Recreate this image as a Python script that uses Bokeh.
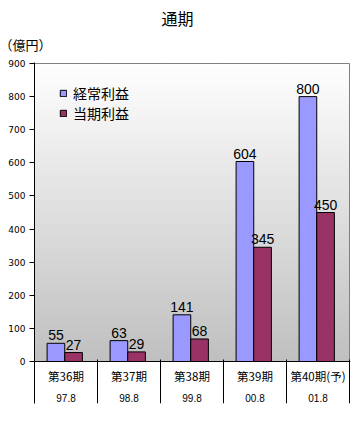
from bokeh.plotting import figure
from bokeh.models import Range1d, FixedTicker, Span, Title
from bokeh.core.properties import value
from bokeh.embed import file_html
from bokeh.resources import INLINE
import numpy as np

# ---- data ----
periods = ["第36期", "第37期", "第38期", "第39期", "第40期(予)"]
dates = ["97.8", "98.8", "99.8", "00.8", "01.8"]
ordinary_profit = [55, 63, 141, 604, 800]
net_profit = [27, 29, 68, 345, 450]
series_names = ["経常利益", "当期利益"]
y_ticks = [0, 100, 200, 300, 400, 500, 600, 700, 800, 900]
title_text = "通期"
unit_text = "（億円）"

# ---- layout ----
W, H = 354, 421
B_LEFT, B_RIGHT, B_TOP, B_BOTTOM = 34, 4, 62, 18
n = len(periods)
y_max = max(y_ticks)
axis_px = 298                      # pixels from 0 to y_max
upp = y_max / axis_px              # data units per pixel (y)
table_px = 42                      # table height below the axis
y_lo = -table_px * upp
y_hi = y_max + 1 * upp
cat_px = (W - B_LEFT - B_RIGHT - 1) / n
x_hi = n + 1 / cat_px

p = figure(width=W, height=H, x_range=Range1d(0, x_hi), y_range=Range1d(y_lo, y_hi),
           x_axis_location=None, toolbar_location=None, output_backend="svg",
           min_border_left=B_LEFT, min_border_right=B_RIGHT,
           min_border_top=B_TOP, min_border_bottom=B_BOTTOM,
           title=title_text)
p.outline_line_color = None
p.background_fill_color = "white"
p.border_fill_color = "white"
p.ygrid.visible = False

# titles (the one added later sits closer to the plot)
p.title.align = "left"
p.title.offset = 161 - B_LEFT
p.title.standoff = -12
p.title.text_font = "Noto Sans CJK JP"
p.title.text_font_size = "16px"
p.title.text_font_style = "normal"
p.title.text_color = "black"
p.add_layout(Title(text=unit_text, align="left", offset=-35, standoff=18,
                   text_font="Noto Sans CJK JP", text_font_size="13px",
                   text_font_style="normal", text_color="black"), "above")

# gradient background of the plot area
N = 300
t = np.linspace(0, 1, N)
v = (192 + (255 - 192) * t).astype(np.uint8)
img = np.empty((N, 1), dtype=np.uint32)
view = img.view(dtype=np.uint8).reshape((N, 1, 4))
view[:, 0, 0] = v
view[:, 0, 1] = v
view[:, 0, 2] = v
view[:, 0, 3] = 255
p.image_rgba(image=[img], x=0, y=0, dw=n, dh=y_max)

# plot-area border (top, right)
p.line(x=[0, n, n], y=[y_max, y_max, 0], line_color="#808080", line_width=1)

# bars
centers = [i + 0.5 for i in range(n)]
bw = 0.28
x_a = [c - 0.16 for c in centers]
x_b = [c + 0.12 for c in centers]
p.vbar(x=x_a, top=ordinary_profit, bottom=0, width=bw, fill_color="#9999FF",
       line_color="black", line_width=1, legend_label=series_names[0])
p.vbar(x=x_b, top=net_profit, bottom=0, width=bw, fill_color="#993366",
       line_color="black", line_width=1, legend_label=series_names[1])

# value labels
num_font = value("Liberation Sans")
p.text(x=x_a, y=ordinary_profit, text=[str(v) for v in ordinary_profit],
       text_align="center", text_baseline="alphabetic", y_offset=-8,
       text_font=num_font, text_font_size="14px", text_color="black")
p.text(x=x_b, y=net_profit, text=[str(v) for v in net_profit],
       text_align="center", text_baseline="alphabetic", y_offset=-8,
       text_font=num_font, text_font_size="14px", text_color="black")

# x axis line at 0 and table separators
p.add_layout(Span(location=0, dimension="width", line_color="black", line_width=1))
bounds = [i + 1 for i in range(n)]
p.segment(x0=bounds, y0=[2 * upp] * n, x1=bounds, y1=[y_lo] * n,
          line_color="black", line_width=1)

# table labels
cjk = value("Noto Sans CJK JP")
p.text(x=centers, y=[0] * n, text=periods, text_align="center", text_baseline="middle",
       y_offset=14, text_font=cjk, text_font_size="11.5px", text_color="black")
p.text(x=centers, y=[0] * n, text=dates, text_align="center", text_baseline="middle",
       y_offset=36, text_font=num_font, text_font_size="10px", text_color="black")

# y axis
ax = p.yaxis[0]
ax.ticker = FixedTicker(ticks=y_ticks)
ax.axis_line_color = "black"
ax.major_tick_line_color = "black"
ax.major_tick_out = 5
ax.major_tick_in = 0
ax.minor_tick_line_color = None
ax.major_label_standoff = 4
ax.major_label_text_font = "DejaVu Sans"
ax.major_label_text_font_size = "9px"
ax.major_label_text_color = "black"

# legend (location = bottom-left of the legend box, from frame bottom-left)
lg = p.legend[0]
frame_h = H - B_TOP - B_BOTTOM
lg.location = (25, frame_h - 21 - 40)
lg.padding = 0
lg.margin = 0
lg.spacing = 0
lg.border_line_color = None
lg.background_fill_alpha = 0
lg.glyph_width = 8
lg.glyph_height = 8
lg.label_height = 20
lg.label_standoff = 6
lg.label_text_font = "Noto Sans CJK JP"
lg.label_text_font_size = "14px"
lg.label_text_color = "black"
lg.label_text_baseline = "middle"

open("out.html", "w").write(file_html(p, INLINE))
